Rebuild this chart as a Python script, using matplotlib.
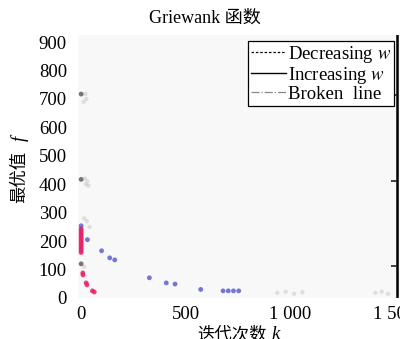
import matplotlib
matplotlib.use('agg')
import matplotlib.pyplot as plt
from matplotlib.lines import Line2D
from matplotlib.ticker import FixedLocator, FuncFormatter

plt.rcParams['font.family'] = ['Liberation Serif', 'Noto Sans CJK SC']
plt.rcParams['mathtext.fontset'] = 'stix'

# blue run
blue_k = [0, 30, 98, 137, 161, 327, 408, 450, 573, 680, 705, 730, 755]
blue_f = [254, 205, 166, 141, 134, 71, 53, 49, 30, 25, 25, 25, 25]

# red run
red_k = [0, 0, 0, 0, 0, 0, 0, 0, 0, 0, 0, 0, 0, 0, 0,
         8, 9, 24, 28, 54, 63]
red_f = [244, 238, 232, 226, 220, 214, 208, 202, 196, 190, 184, 178, 172, 166, 160,
         88, 81, 53, 46, 25, 21]

# grey starting points
grey_k = [0, 0, 0]
grey_f = [717, 417, 120]

# faint scatter
faint_k = [20, 25, 12, 30, 18, 22, 35, 15, 28, 940, 980, 1020, 1060, 1410, 1440, 1470, 15, 40]
faint_f = [717, 700, 690, 410, 420, 400, 395, 280, 270, 18, 22, 15, 20, 18, 22, 15, 110, 250]

# increasing-w line
inc_k = [1514, 1514]
inc_f = [0, 925]
inc_mark_f = [715, 412, 113]

fig = plt.figure(figsize=(4.0, 3.39), dpi=100)
ax = fig.add_axes([0.195, 0.121, 0.85, 0.776])
ax.set_facecolor('#f8f8f8')
for s in ax.spines.values():
    s.set_visible(False)

ax.scatter(faint_k, faint_f, s=10, color='#b0b0b0', alpha=0.35, edgecolors='none')
ax.scatter(red_k, red_f, s=12, color='#e8206a', alpha=0.85, edgecolors='none')
ax.scatter(blue_k, blue_f, s=12, color='#5555cc', alpha=0.8, edgecolors='none')
ax.scatter(grey_k, grey_f, s=12, color='#555555', alpha=0.8, edgecolors='none')
ax.plot(inc_k, inc_f, color='black', lw=1.8)
ax.plot([inc_k[0]] * len(inc_mark_f), inc_mark_f, ls='none', marker=0, ms=4,
        color='#222222', mew=1.2)

ax.set_xlim(-15, 1614)
ax.set_ylim(0, 925)
ax.xaxis.set_major_locator(FixedLocator([0, 500, 1000, 1500]))
ax.yaxis.set_major_locator(FixedLocator(range(0, 901, 100)))
ax.xaxis.set_major_formatter(FuncFormatter(lambda v, p: f'{int(v):,}'.replace(',', ' ')))
ax.tick_params(length=0, labelsize=13.5)
ax.tick_params(axis='x', pad=6)
ax.tick_params(axis='y', pad=8)

fig.text(0.5125, 0.947, 'Griewank 函数', ha='center', va='center', fontsize=13)

# axis labels: CJK part plus italic variable
fig.text(0.05, 0.478, '最优值', rotation=90, ha='center', va='center', fontsize=12.5)
fig.text(0.05, 0.592, 'f', rotation=90, ha='center', va='center', fontsize=13.5,
         style='italic')
fig.text(0.58, 0.012, '迭代次数', ha='center', va='center', fontsize=12.5)
fig.text(0.688, 0.012, 'k', ha='center', va='center', fontsize=13.5, style='italic')

handles = [Line2D([], [], color='black', ls=(0, (2, 1.5)), lw=0.9),
           Line2D([], [], color='black', ls='-', lw=1.0),
           Line2D([], [], color='#888888', ls='-.', lw=0.9)]
labels = ['Decreasing $w$', 'Increasing $w$', 'Broken  line']
leg = fig.legend(handles, labels, loc='upper right', bbox_to_anchor=(0.985, 0.879),
                 bbox_transform=fig.transFigure, fontsize=13.5, frameon=True,
                 fancybox=False, edgecolor='black', framealpha=1, borderpad=0.15,
                 borderaxespad=0, handlelength=1.9, handletextpad=0.1, labelspacing=0.0)
leg.get_frame().set_linewidth(0.9)

fig.savefig('out.png', dpi=100)
